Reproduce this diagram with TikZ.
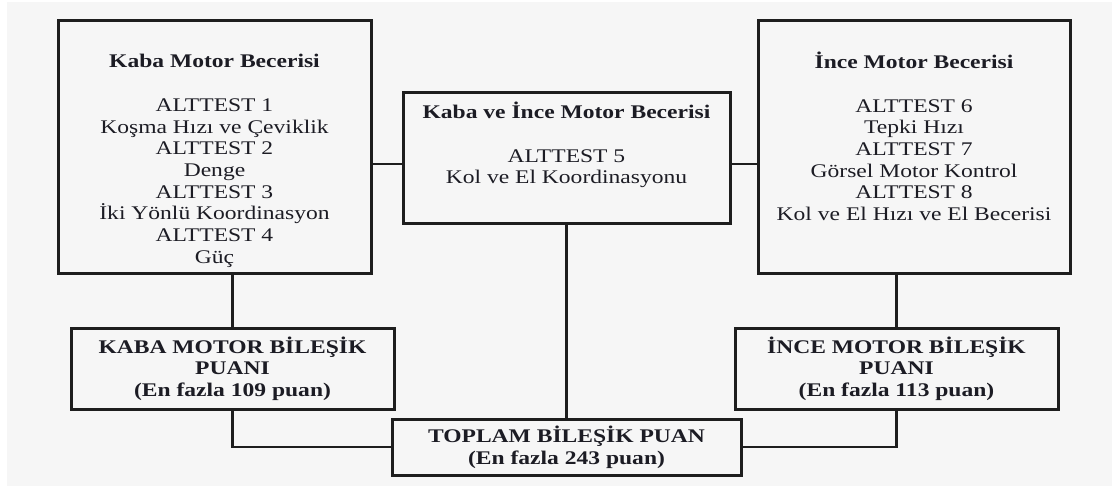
\documentclass[tikz,border=0pt]{standalone}
\usepackage{fontspec}
\setmainfont{Liberation Serif}[FakeStretch=1.22]
\definecolor{bgc}{HTML}{F6F6F6}
\definecolor{ink}{HTML}{1C1C24}
\definecolor{edge}{HTML}{1E1E1E}
\begin{document}
\begin{tikzpicture}[x=1pt,y=-1pt,
  box/.style={draw=edge,line width=3pt,inner sep=0pt,outer sep=0pt,rectangle},
  txt/.style={align=center,text=ink,font=\fontsize{19.3}{21.7}\selectfont,inner sep=0pt},
  conn/.style={draw=edge,line width=2.1pt}]
\useasboundingbox (0,0) rectangle (1117,497);
\fill[white] (0,0) rectangle (1117,497);
\fill[bgc] (7,2) rectangle (1112,486);
% top boxes
\node[box,minimum width=313pt,minimum height=253pt] (k1) at (214.5,147.5) {};
\node[box,minimum width=327pt,minimum height=131pt] (m) at (566.5,158.5) {};
\node[box,minimum width=312pt,minimum height=253pt] (i1) at (914,147.5) {};
\node[txt] (k1t) at (214.5,161) {\textbf{Kaba Motor Becerisi}\\[21.7pt]ALTTEST 1\\Koşma Hızı ve Çeviklik\\ALTTEST 2\\Denge\\ALTTEST 3\\İki Yönlü Koordinasyon\\ALTTEST 4\\Güç};
\node[txt] (mt) at (566.5,145) {\textbf{Kaba ve İnce Motor Becerisi}\\[21.7pt]ALTTEST 5\\Kol ve El Koordinasyonu};
\node[txt] (i1t) at (914,136.5) {\textbf{İnce Motor Becerisi}\\[21.7pt]ALTTEST 6\\Tepki Hızı\\ALTTEST 7\\Görsel Motor Kontrol\\ALTTEST 8\\Kol ve El Hızı ve El Becerisi};
% bottom boxes
\node[box,txt,minimum width=323pt,minimum height=81pt] (kc) at (232.5,368.5) {\textbf{KABA MOTOR BİLEŞİK}\\\textbf{PUANI}\\\textbf{(En fazla 109 puan)}};
\node[box,txt,minimum width=323pt,minimum height=81pt] (ic) at (896.5,368.5) {\textbf{İNCE MOTOR BİLEŞİK}\\\textbf{PUANI}\\\textbf{(En fazla 113 puan)}};
\node[box,txt,minimum width=349pt,minimum height=56pt] (t) at (566.5,447) {\textbf{TOPLAM BİLEŞİK PUAN}\\\textbf{(En fazla 243 puan)}};
% connectors
\coordinate (h) at (0,164);
\draw[conn] (k1.east |- h) -- (m.west |- h);
\draw[conn] (m.east |- h) -- (i1.west |- h);
\draw[conn] (kc.north |- k1.south) -- (kc.north);
\draw[conn] (ic.north |- i1.south) -- (ic.north);
\draw[conn] (m.south) -- (t.north);
\draw[conn] (kc.south) |- (t.west);
\draw[conn] (ic.south) |- (t.east);
\end{tikzpicture}
\end{document}
